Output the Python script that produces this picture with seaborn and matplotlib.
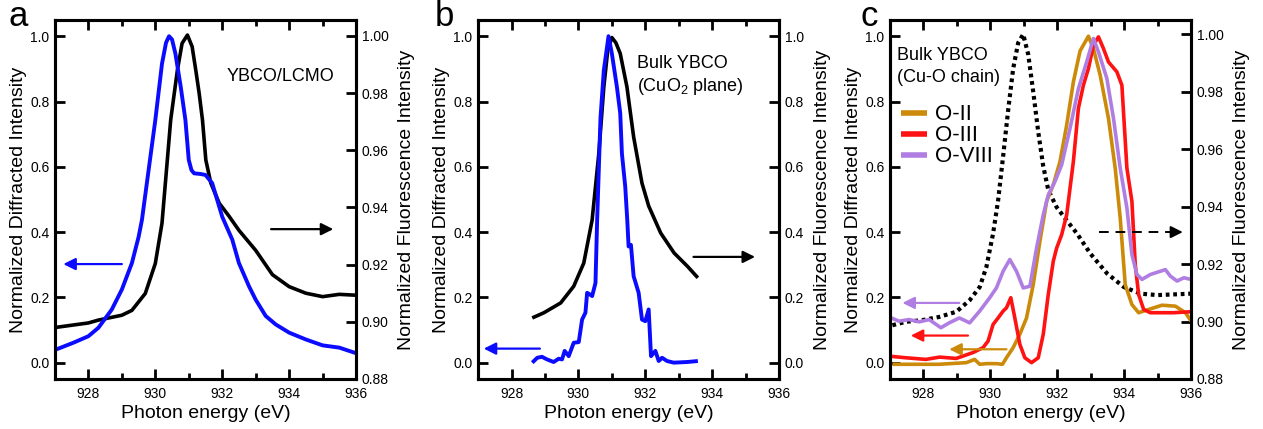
import numpy as np
import pandas as pd
import matplotlib
matplotlib.use("Agg")
import matplotlib.pyplot as plt
import seaborn as sns
from matplotlib.ticker import MultipleLocator, FormatStrFormatter

# ---- data ----
# panel a: YBCO/LCMO
a_diff_x = [927.0, 927.55, 928.0, 928.3, 928.7, 929.0, 929.3, 929.5, 929.6, 929.8, 930.0,
            930.2, 930.32, 930.41, 930.5, 930.6, 930.76, 930.9, 931.0, 931.08, 931.16,
            931.35, 931.5, 931.7, 932.0, 932.3, 932.5, 932.8, 933.0, 933.3, 933.6, 934.0,
            934.5, 935.0, 935.5, 936.0]
a_diff_y = [0.039, 0.061, 0.081, 0.107, 0.163, 0.224, 0.305, 0.385, 0.437, 0.59, 0.743,
            0.916, 0.98, 1.0, 0.99, 0.947, 0.845, 0.743, 0.621, 0.59, 0.58,
            0.578, 0.575, 0.55, 0.447, 0.377, 0.305, 0.234, 0.193, 0.143, 0.117, 0.092,
            0.071, 0.053, 0.046, 0.029]
a_fluo_x = [927.0, 928.0, 928.3, 929.0, 929.3, 929.7, 930.0, 930.2, 930.46, 930.66, 930.8,
            930.96, 931.1, 931.21, 931.31, 931.41, 931.51, 931.66, 931.91, 932.2, 932.5,
            933.0, 933.5, 934.0, 934.5, 935.0, 935.5, 936.0]
a_fluo_y = [0.898, 0.8996, 0.9006, 0.9023, 0.904, 0.9099, 0.9204, 0.9345, 0.9706, 0.988, 0.9974,
            1.0003, 0.9963, 0.988, 0.980, 0.9706, 0.9566, 0.9485, 0.9415, 0.937, 0.932,
            0.925, 0.9165, 0.9123, 0.910, 0.9088, 0.9096, 0.9093]

# panel b: bulk YBCO, CuO2 plane
b_diff_x = [928.62, 928.77, 928.91, 929.06, 929.26, 929.41, 929.51, 929.59, 929.71, 929.86,
            930.01, 930.11, 930.21, 930.26, 930.34, 930.41, 930.51, 930.56, 930.66, 930.76,
            930.9, 931.0, 931.15, 931.25, 931.3, 931.4, 931.46, 931.5, 931.57, 931.65,
            931.8, 931.9, 932.0, 932.1, 932.17, 932.3, 932.4, 932.5, 932.65, 932.85,
            933.25, 933.57]
b_diff_y = [0.0, 0.015, 0.018, 0.010, 0.002, 0.012, 0.010, 0.036, 0.020, 0.061,
            0.063, 0.132, 0.153, 0.214, 0.209, 0.204, 0.244, 0.437, 0.75, 0.896,
            1.0, 0.947, 0.845, 0.764, 0.641, 0.539, 0.437, 0.356, 0.361, 0.265,
            0.214, 0.132, 0.127, 0.163, 0.020, 0.036, 0.005, 0.015, 0.005, 0.0,
            0.002, 0.005]
b_fluo_x = [928.62, 928.97, 929.47, 929.86, 930.16, 930.41, 930.61, 930.76, 930.88, 931.0,
            931.12, 931.25, 931.45, 931.65, 931.9, 932.1, 932.46, 932.86, 933.26, 933.57]
b_fluo_y = [0.137, 0.153, 0.183, 0.234, 0.305, 0.437, 0.641, 0.845, 0.96, 0.996,
            0.98, 0.947, 0.845, 0.692, 0.55, 0.48, 0.397, 0.336, 0.295, 0.260]

# panel c: bulk YBCO, Cu-O chain
c_fluo_x = [927.07, 927.47, 927.97, 928.47, 928.98, 929.38, 929.68, 929.88, 930.08, 930.23,
            930.38, 930.53, 930.68, 930.83, 930.98, 931.13, 931.28, 931.43, 931.58, 931.73,
            931.98, 932.28, 932.59, 932.99, 933.49, 933.99, 934.49, 934.99, 936.0]
c_fluo_y = [0.8987, 0.8999, 0.9005, 0.9016, 0.9034, 0.9074, 0.912, 0.919, 0.9306, 0.9421,
            0.9575, 0.9735, 0.988, 0.997, 1.0, 0.993, 0.980, 0.966, 0.954, 0.9458,
            0.9398, 0.9352, 0.9306, 0.9236, 0.9167, 0.912, 0.9097, 0.9092, 0.9097]

o2_x = [927.07, 927.47, 928.47, 929.28, 929.53, 929.68, 929.88, 930.18, 930.36, 930.48,
        930.68, 930.88, 931.08, 931.28, 931.48, 931.68, 931.88, 932.08, 932.28, 932.48,
        932.68, 932.93, 933.08, 933.28, 933.53, 933.73, 933.88, 934.03, 934.23, 934.43,
        934.73, 935.13, 935.53, 935.83, 936.0]
o2_y = [-0.005, -0.005, -0.005, 0.0, 0.010, -0.005, -0.003, -0.003, -0.005, 0.015,
        0.046, 0.087, 0.137, 0.239, 0.372, 0.494, 0.545, 0.616, 0.728, 0.860,
        0.955, 1.0, 0.962, 0.881, 0.748, 0.596, 0.443, 0.239, 0.178, 0.153,
        0.163, 0.176, 0.173, 0.153, 0.127]
o3_x = [926.97, 927.47, 928.07, 928.48, 928.98, 929.48, 929.78, 929.93, 930.08, 930.23,
        930.38, 930.48, 930.61, 930.73, 930.88, 931.03, 931.23, 931.43, 931.58, 931.73,
        931.88, 931.98, 932.13, 932.28, 932.48, 932.63, 932.78, 932.93, 933.08, 933.23,
        933.38, 933.53, 933.78, 933.93, 934.08, 934.23, 934.33, 934.43, 934.58, 934.78,
        935.48, 936.0]
o3_y = [0.020, 0.015, 0.010, 0.017, 0.013, 0.031, 0.046, 0.066, 0.117, 0.137,
        0.158, 0.168, 0.199, 0.137, 0.056, 0.015, 0.0, 0.015, 0.087, 0.209,
        0.311, 0.351, 0.392, 0.453, 0.616, 0.779, 0.850, 0.901, 0.973, 0.998,
        0.962, 0.921, 0.891, 0.850, 0.596, 0.494, 0.300, 0.209, 0.163, 0.153,
        0.153, 0.156]
o8_x = [926.97, 927.27, 927.57, 927.87, 928.17, 928.52, 928.77, 929.07, 929.38, 929.68,
        929.98, 930.18, 930.38, 930.58, 930.78, 930.98, 931.18, 931.38, 931.58, 931.73,
        931.93, 932.13, 932.38, 932.63, 932.88, 933.08, 933.23, 933.48, 933.68, 933.88,
        934.08, 934.23, 934.38, 934.53, 934.78, 935.08, 935.23, 935.38, 935.58, 935.78,
        936.0]
o8_y = [0.140, 0.127, 0.132, 0.125, 0.132, 0.107, 0.122, 0.137, 0.122, 0.158,
        0.199, 0.229, 0.280, 0.316, 0.280, 0.229, 0.234, 0.351, 0.453, 0.514,
        0.555, 0.606, 0.718, 0.839, 0.922, 0.993, 0.952, 0.871, 0.748, 0.596,
        0.474, 0.331, 0.270, 0.255, 0.270, 0.280, 0.285, 0.265, 0.250, 0.260,
        0.255]

series_names = ["O-II", "O-III", "O-VIII"]
panel_letters = ["a", "b", "c"]

BLUE = "#0b0bff"
GOLD = "#cc8a0a"
RED = "#ff1212"
PURPLE = "#b07ee2"

sns.set_style("ticks")
plt.rcParams["font.family"] = ["Liberation Sans", "DejaVu Sans"]
plt.rcParams.update({
    "axes.linewidth": 2.2,
    "axes.edgecolor": "black",
    "axes.labelcolor": "black",
    "xtick.color": "black",
    "ytick.color": "black",
    "text.color": "black",
    "mathtext.default": "regular",
    "lines.solid_joinstyle": "round",
    "lines.solid_capstyle": "butt",
})

fig = plt.figure(figsize=(12.63, 4.29), dpi=100)
lefts = [0.0435, 0.3785, 0.7047]
axs = [fig.add_axes([l, 0.1166, 0.2384, 0.837]) for l in lefts]


def style_axes(ax, tw, right_ticks, right_fmt, right_lim):
    ax.set_xlim(927, 936)
    ax.set_ylim(-0.05, 1.05)
    ax.xaxis.set_major_locator(MultipleLocator(2))
    ax.xaxis.set_minor_locator(MultipleLocator(1))
    ax.yaxis.set_major_locator(MultipleLocator(0.2))
    ax.yaxis.set_major_formatter(FormatStrFormatter("%.1f"))
    ax.tick_params(axis="x", which="both", direction="in", top=True, width=2.0,
                   labelsize=10, pad=6)
    ax.tick_params(axis="x", which="major", length=7)
    ax.tick_params(axis="x", which="minor", length=4)
    ax.tick_params(axis="y", direction="in", length=7, width=2.0, labelsize=10,
                   right=False, pad=4)
    ax.set_xlabel("Photon energy (eV)", fontsize=14, labelpad=3)
    ax.set_ylabel("Normalized Diffracted Intensity", fontsize=14, labelpad=2)
    tw.set_ylim(*right_lim)
    tw.yaxis.set_major_locator(MultipleLocator(right_ticks))
    tw.yaxis.set_major_formatter(FormatStrFormatter(right_fmt))
    tw.tick_params(axis="y", direction="in", length=7, width=2.0, labelsize=10, pad=4)
    tw.set_ylabel("Normalized Fluorescence Intensity", fontsize=14, rotation=90,
                  labelpad=7)
    for sp in tw.spines.values():
        sp.set_linewidth(2.2)
        sp.set_edgecolor("black")
    ax.set_zorder(tw.get_zorder() + 1)
    ax.patch.set_visible(False)


def arrow(ax, x0, x1, y, color, dashed=False):
    if dashed:
        ax.plot([x0, x1 - 0.35], [y, y], color=color, lw=1.4, ls=(0, (5, 3.5)))
        ax.annotate("", xy=(x1, y), xytext=(x1 - 0.4, y),
                    arrowprops=dict(arrowstyle="-|>", color=color, lw=1.4,
                                    mutation_scale=18, shrinkA=0, shrinkB=0))
    else:
        ax.annotate("", xy=(x1, y), xytext=(x0, y),
                    arrowprops=dict(arrowstyle="-|>", color=color, lw=1.6,
                                    mutation_scale=18, shrinkA=0, shrinkB=0))


# ---- panel a ----
ax = axs[0]
tw = ax.twinx()
sns.lineplot(x=a_fluo_x, y=a_fluo_y, ax=tw, color="black", lw=2.6)
sns.lineplot(x=a_diff_x, y=a_diff_y, ax=ax, color=BLUE, lw=2.8)
style_axes(ax, tw, 0.02, "%.2f", (0.88, 1.0056))
ax.text(932.14, 0.878, "YBCO/LCMO", fontsize=13, va="center", ha="left")
arrow(ax, 929.0, 927.25, 0.302, BLUE)
arrow(ax, 933.46, 935.32, 0.409, "black")

# ---- panel b ----
ax = axs[1]
tw = ax.twinx()
sns.lineplot(x=b_fluo_x, y=b_fluo_y, ax=tw, color="black", lw=2.6)
sns.lineplot(x=b_diff_x, y=b_diff_y, ax=ax, color=BLUE, lw=2.8)
style_axes(ax, tw, 0.2, "%.1f", (-0.05, 1.05))
ax.text(931.75, 0.917, "Bulk YBCO", fontsize=13, va="center", ha="left")
ax.text(931.75, 0.845, "(CuO$_2$ plane)", fontsize=13, va="center", ha="left")
arrow(ax, 928.85, 927.17, 0.043, BLUE)
arrow(ax, 933.44, 935.28, 0.324, "black")

# ---- panel c ----
ax = axs[2]
tw = ax.twinx()
sns.lineplot(x=c_fluo_x, y=c_fluo_y, ax=tw, color="black", lw=3.0,
             ls=(0, (0.9, 0.9)))
for xs, ys, col, name in zip([o2_x, o3_x, o8_x], [o2_y, o3_y, o8_y],
                             [GOLD, RED, PURPLE], series_names):
    sns.lineplot(x=xs, y=ys, ax=ax, color=col, lw=2.6, label=name)
style_axes(ax, tw, 0.02, "%.2f", (0.88, 1.005))
ax.text(927.22, 0.942, "Bulk YBCO", fontsize=13, va="center", ha="left")
ax.text(927.22, 0.873, "(Cu-O chain)", fontsize=13, va="center", ha="left")
leg = ax.legend(loc="upper left", bbox_to_anchor=(0.035, 0.765), frameon=False,
                fontsize=16, handlelength=1.2, handletextpad=0.35,
                labelspacing=0.0, borderpad=0, borderaxespad=0)
for h in leg.get_lines():
    h.set_linewidth(4)
arrow(ax, 933.24, 935.75, 0.40, "black", dashed=True)
arrow(ax, 929.07, 927.37, 0.183, PURPLE)
arrow(ax, 929.33, 927.62, 0.083, RED)
arrow(ax, 930.48, 928.77, 0.041, GOLD)

for letter, xpos in zip(panel_letters, [0.007, 0.344, 0.681]):
    fig.text(xpos, 0.94, letter, fontsize=25, ha="left", va="baseline")

fig.savefig("out.png", dpi=100)
